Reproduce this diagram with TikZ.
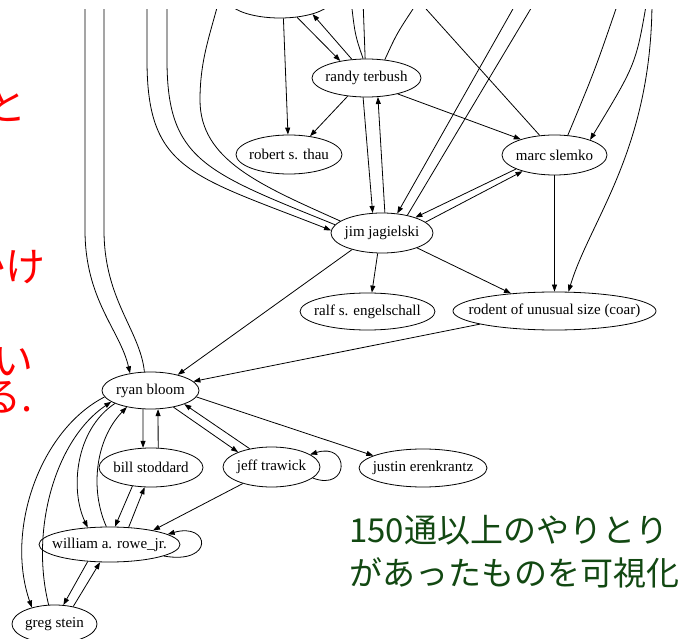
\documentclass[tikz,border=0pt]{standalone}
\usepackage{fontspec}
\setmainfont{Liberation Serif}
\newfontfamily\jpfont{Noto Sans CJK JP}
\usetikzlibrary{shapes.geometric,arrows.meta}
\definecolor{jpred}{RGB}{255,0,0}
\definecolor{jpgreen}{RGB}{18,72,18}
\newcommand\glab[1]{\makebox[0pt]{#1}}
\begin{document}
\begin{tikzpicture}[x=1pt,y=-1pt,
  gnode/.style={ellipse,draw,line width=0.8pt,inner sep=0pt,font=\fontsize{15}{17}\selectfont},
  edge/.style={line width=0.8pt,-{Triangle[length=7pt,width=5pt]}},
  plain/.style={line width=0.8pt},
  redtxt/.style={anchor=base east,inner sep=0pt,text=jpred,font=\jpfont\fontsize{40}{44}\selectfont},
  greentxt/.style={anchor=base west,inner sep=0pt,text=jpgreen,font=\jpfont\fontsize{33}{40}\selectfont}]
\useasboundingbox (0,0) rectangle (691,639);

% red text, cut at the left edge
\node[redtxt] (r1) at (27,121) {と};
\node[redtxt] (r2) at (46,281) {かけ};
\node[redtxt] (r3) at (34,375) {い};
\node[redtxt] (r4) at (33,411) {る.};

% green caption
\node[greentxt] (g1) at (349,542) {150通以上のやりとり};
\node[greentxt] (g2) at (349,585) {があったものを可視化};

\begin{scope}
\clip (0,10) rectangle (691,639);
% nodes
\node[gnode,minimum width=104pt,minimum height=38pt] (top) at (280,-1) {};
\node[gnode,minimum width=109pt,minimum height=38pt] (randy) at (366.5,78) {\glab{randy terbush}};
\node[gnode,minimum width=106pt,minimum height=39pt] (robert) at (289,154.5) {\glab{robert s. thau}};
\node[gnode,minimum width=105pt,minimum height=40pt] (marc) at (554.5,155) {\glab{marc slemko}};
\node[gnode,minimum width=102pt,minimum height=40pt] (jim) at (382,233) {\glab{jim jagielski}};
\node[gnode,minimum width=135pt,minimum height=37pt] (ralf) at (367.5,311.5) {\glab{ralf s. engelschall}};
\node[gnode,minimum width=203pt,minimum height=38pt] (rodent) at (554.5,311) {\glab{rodent of unusual size (coar)}};
\node[gnode,minimum width=97pt,minimum height=37pt] (ryan) at (150.5,390.5) {\glab{ryan bloom}};
\node[gnode,minimum width=104pt,minimum height=39pt] (bill) at (151,467.5) {\glab{bill stoddard}};
\node[gnode,minimum width=97pt,minimum height=40pt] (jeff) at (271.5,467) {\glab{jeff trawick}};
\node[gnode,minimum width=128pt,minimum height=38pt] (justin) at (423,468) {\glab{justin erenkrantz}};
\node[gnode,minimum width=141pt,minimum height=35pt] (william) at (109.5,544.5) {\glab{william a. rowe\_jr.}};
\node[gnode,minimum width=85pt,minimum height=38pt] (greg) at (54.5,624) {\glab{greg stein}};

% free ends above the picture
\coordinate (uA) at (85,0);
\coordinate (uB) at (104,0);
\coordinate (uC) at (147,0);
\coordinate (uD) at (167,0);
\coordinate (uE) at (219,0);
\coordinate (uF) at (351,0);
\coordinate (uG) at (363,0);
\coordinate (uH) at (419,0);
\coordinate (uI) at (418,0);
\coordinate (uJ) at (518,0);
\coordinate (uK) at (536,0);
\coordinate (uL) at (619,0);
\coordinate (uM) at (647,0);
\coordinate (uN) at (652,0);

% top node
\draw[edge] (top.280) -- (robert.93);
\draw[edge] (top.313) -- (randy.147);
\draw[edge] (randy.128) -- (top.335);

% randy
\draw[edge] (randy.224) -- (robert.41);
\draw[edge] (randy.333) -- (marc.155);
\draw[edge] (randy.260) -- (jim.115);
\draw[edge] (jim.82) -- (randy.301);
\draw[plain] (randy.100) .. controls (355,35) .. (uF);
\draw[plain] (randy.94) -- (uG);
\draw[plain] (randy.45) .. controls (397,33) .. (uH);

% marc
\draw[plain] (marc.127) -- (uI);
\draw[plain] (marc.56) .. controls (595,70) .. (uL);
\draw[edge] (uM) .. controls (636,64) .. (marc.23);
\draw[edge] (uN) .. controls (652,150) and (590,220) .. (rodent.54);
\draw[edge] (marc.south) -- (rodent.north);
\draw[edge] (marc.200) -- (jim.25);
\draw[edge] (jim.14) -- (marc.207);

% jim
\draw[edge] (uJ) -- (jim.52);
\draw[plain] (jim.35) -- (uK);
\draw[edge] (jim.258) -- (ralf.77);
\draw[edge] (jim.337) -- (rodent.158);
\draw[edge] (jim.209) -- (ryan.30);
\draw[edge] (uC) -- (147,60) .. controls (147,170) and (190,175) .. (jim.177);
\draw[plain] (jim.170) .. controls (205,172) and (167,160) .. (167,60) -- (uD);
\draw[plain] (jim.164) .. controls (260,185) and (200,160) .. (200,100) .. controls (200,60) and (210,35) .. (uE);

% rodent
\draw[edge] (rodent.190) -- (ryan.12);

% ryan
\draw[edge] (uA) -- (85,230) .. controls (85,300) and (120,330) .. (ryan.140);
\draw[plain] (ryan.108) .. controls (140,330) and (104,300) .. (104,230) -- (uB);
\draw[edge] (ryan.248) -- (bill.112);
\draw[edge] (bill.70) -- (ryan.292);
\draw[edge] (ryan.324) -- (jeff.156);
\draw[edge] (jeff.140) -- (ryan.338);
\draw[edge] (ryan.352) -- (justin.166);
\draw[edge] (ryan.188) .. controls (40,430) and (5,530) .. (greg.144);
\draw[edge] (greg.107) .. controls (30,530) and (55,440) .. (ryan.196);
\draw[edge] (ryan.200) .. controls (75,430) and (70,490) .. (william.142);
\draw[edge] (william.100) .. controls (90,490) and (95,440) .. (ryan.215);

% jeff, bill, william, greg
\draw[edge] (jeff.-15) .. controls (350,492) and (350,442) .. (jeff.18);
\draw[edge] (jeff.210) -- (william.18);
\draw[edge] (bill.225) -- (william.73);
\draw[edge] (william.42) -- (bill.252);
\draw[edge] (william.-12) .. controls (215,565) and (210,522) .. (william.10);
\draw[edge] (william.218) -- (greg.65);
\draw[edge] (greg.43) -- (william.242);
\end{scope}
\end{tikzpicture}
\end{document}
